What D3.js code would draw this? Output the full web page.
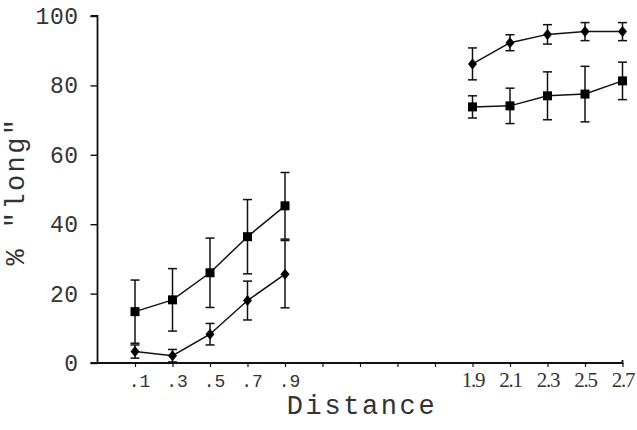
<!DOCTYPE html>
<html>
<head>
<meta charset="utf-8">
<script src="https://cdn.jsdelivr.net/npm/d3@7"></script>
<style>
  html, body { margin: 0; padding: 0; background: #fff; }
  svg { display: block; }
</style>
</head>
<body>
<svg id="chart" width="637" height="430"></svg>
<script>
// ---- data ----
const distances = [0.1, 0.3, 0.5, 0.7, 0.9, 1.9, 2.1, 2.3, 2.5, 2.7];
const groups = ["near", "near", "near", "near", "near", "far", "far", "far", "far", "far"];
const squareValues = [14.8, 18.2, 26.0, 36.4, 45.3, 73.8, 74.1, 77.0, 77.5, 81.3];
const squareErrors = [9.1, 9.0, 10.0, 10.7, 9.6, 3.2, 5.1, 6.9, 8.0, 5.4];
const diamondValues = [3.3, 2.1, 8.3, 18.0, 25.6, 86.2, 92.3, 94.7, 95.5, 95.5];
const diamondErrors = [1.9, 1.8, 3.1, 5.6, 9.7, 4.6, 2.3, 2.8, 2.6, 2.6];
const yTicks = [0, 20, 40, 60, 80, 100];
const xTickValues = [0.1, 0.3, 0.5, 0.7, 0.9, 1.1, 1.3, 1.5, 1.7, 1.9, 2.1, 2.3, 2.5, 2.7];
const xTickLabels = [".1", ".3", ".5", ".7", ".9", "", "", "", "", "1.9", "2.1", "2.3", "2.5", "2.7"];
const xTitle = "Distance";
const yTitle = "% \"long\"";

const MONO = "'Liberation Mono', 'Courier New', Courier, monospace";
const SERIF = "'Liberation Serif', 'Times New Roman', serif";

// ---- scales ----
const svg = d3.select("#chart");
const x = d3.scaleLinear().domain([-0.1, 2.7]).range([97.5, 622.5]);
const y = d3.scaleLinear().domain([0, 100]).range([363, 16]);

// ---- axes ----
const xAxis = d3.axisBottom(x)
  .tickValues(xTickValues)
  .tickSize(4)
  .tickSizeOuter(0)
  .tickPadding(8)
  .tickFormat((d, i) => xTickLabels[i]);
const gx = svg.append("g").attr("transform", `translate(0,${y(0)})`).call(xAxis);
gx.select(".domain").attr("stroke", "#111").attr("stroke-width", 1.8)
  .attr("d", `M${x(-0.1) - 7},0H${x(2.7)}V-3`);
gx.selectAll(".tick line").attr("stroke", "#111").attr("stroke-width", 1.2);
gx.selectAll(".tick text")
  .attr("fill", "#333")
  .attr("dy", null)
  .attr("y", 24)
  .each(function(d) {
    const t = d3.select(this);
    if (d < 1) {
      t.attr("font-family", MONO).attr("font-size", 18).attr("dx", 4);
    } else {
      t.attr("font-family", SERIF).attr("font-size", 21)
       .attr("letter-spacing", -1.2);
    }
  });

const yAxis = d3.axisLeft(y)
  .tickValues(yTicks)
  .tickSize(7)
  .tickSizeOuter(0)
  .tickPadding(12);
const gy = svg.append("g").attr("transform", `translate(${x(-0.1)},0)`).call(yAxis);
gy.select(".domain").attr("stroke", "#111").attr("stroke-width", 1.8)
  .attr("d", `M-7,${y(100)}H0V${y(0)}`);
gy.selectAll(".tick line").attr("stroke", "#111").attr("stroke-width", 1.4);
gy.selectAll(".tick text")
  .attr("fill", "#333")
  .attr("font-family", MONO)
  .attr("font-size", 23)
  .attr("letter-spacing", 0.5)
  .attr("dy", "0.33em");

// ---- titles ----
svg.append("text")
  .attr("x", 362).attr("y", 414)
  .attr("text-anchor", "middle")
  .attr("font-family", MONO)
  .attr("font-size", 27)
  .attr("letter-spacing", 2.6)
  .attr("fill", "#333")
  .text(xTitle);

svg.append("text")
  .attr("transform", "translate(24,191) rotate(-90)")
  .attr("text-anchor", "middle")
  .attr("font-family", MONO)
  .attr("font-size", 27)
  .attr("letter-spacing", 2.4)
  .attr("fill", "#333")
  .text(yTitle);

// ---- series ----
function build(values, errors) {
  return distances.map((d, i) => ({ d, v: values[i], e: errors[i], g: groups[i] }));
}
const series = [
  { name: "square", data: build(squareValues, squareErrors) },
  { name: "diamond", data: build(diamondValues, diamondErrors) }
];

const line = d3.line().x(p => x(p.d)).y(p => y(p.v));
const plot = svg.append("g");

series.forEach(s => {
  const byGroup = d3.groups(s.data, p => p.g);
  // error bars
  const eb = plot.append("g").attr("stroke", "#111").attr("stroke-width", 1.5).attr("fill", "none");
  s.data.forEach(p => {
    const cx = x(p.d), top = y(Math.min(100, p.v + p.e)), bot = y(Math.max(0, p.v - p.e));
    eb.append("line").attr("x1", cx).attr("x2", cx).attr("y1", top).attr("y2", bot);
    eb.append("line").attr("x1", cx - 4.5).attr("x2", cx + 4.5).attr("y1", top).attr("y2", top);
    eb.append("line").attr("x1", cx - 4.5).attr("x2", cx + 4.5).attr("y1", bot).attr("y2", bot);
  });
  // lines
  byGroup.forEach(([g, pts]) => {
    plot.append("path").attr("d", line(pts))
      .attr("fill", "none").attr("stroke", "#111").attr("stroke-width", 1.5);
  });
  // markers
  if (s.name === "square") {
    plot.append("g").selectAll("rect").data(s.data).join("rect")
      .attr("x", p => x(p.d) - 4.5).attr("y", p => y(p.v) - 4.5)
      .attr("width", 9).attr("height", 9).attr("fill", "#000");
  } else {
    plot.append("g").selectAll("path").data(s.data).join("path")
      .attr("d", p => {
        const pth = d3.path();
        const cx = x(p.d), cy = y(p.v);
        pth.moveTo(cx, cy - 5.5);
        pth.lineTo(cx + 4.5, cy);
        pth.lineTo(cx, cy + 5.5);
        pth.lineTo(cx - 4.5, cy);
        pth.closePath();
        return pth.toString();
      })
      .attr("fill", "#000");
  }
});
</script>
</body>
</html>
